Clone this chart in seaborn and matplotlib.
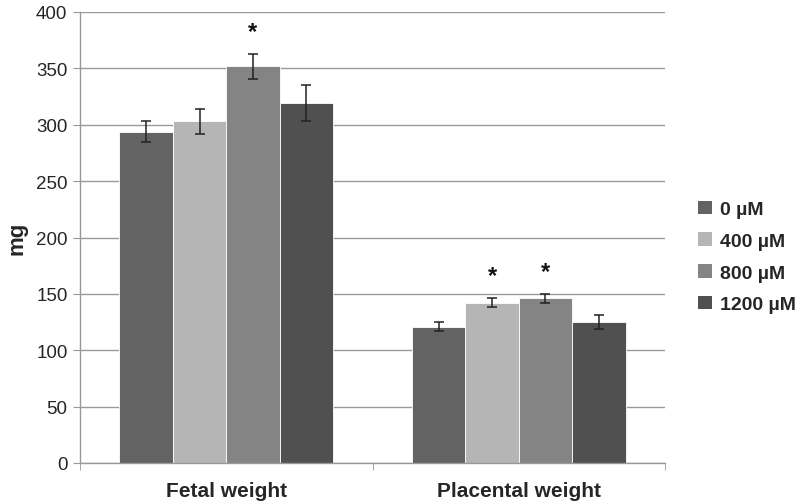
import pandas as pd
import numpy as np
import seaborn as sns
import matplotlib.pyplot as plt
from matplotlib.ticker import FixedLocator

groups = ['Fetal weight', 'Placental weight']
doses = ['0 µM', '400 µM', '800 µM', '1200 µM']
colors = ['#636363', '#b5b5b5', '#848484', '#505050']

# means per dose, [fetal, placental]
mean_0 = [294, 121]
mean_400 = [303, 142]
mean_800 = [352, 146]
mean_1200 = [319, 125]

err_0 = [9, 4]
err_400 = [11, 4]
err_800 = [11, 4]
err_1200 = [16, 6]

# significance marks: (dose, group)
stars = [('800 µM', 'Fetal weight'), ('400 µM', 'Placental weight'), ('800 µM', 'Placental weight')]

means = [mean_0, mean_400, mean_800, mean_1200]
errs = [err_0, err_400, err_800, err_1200]
rows = []
for d, m, e in zip(doses, means, errs):
    for g, v, s in zip(groups, m, e):
        rows.append({'group': g, 'dose': d, 'mg': v, 'err': s})
df = pd.DataFrame(rows)

sns.set_style('white')
plt.rcParams['font.family'] = ['Liberation Sans', 'DejaVu Sans']

fig = plt.figure(figsize=(7.99, 5.02), dpi=100)
ax = fig.add_axes([80 / 799, 1 - 464 / 502, 585 / 799, 451 / 502])

sns.barplot(data=df, x='group', y='mg', hue='dose', order=groups, hue_order=doses,
            palette=colors, width=0.73, saturation=1, edgecolor='white', linewidth=0.6,
            errorbar=None, ax=ax)

for cont, d in zip(ax.containers, doses):
    for bar, g in zip(cont, groups):
        row = df[(df['dose'] == d) & (df['group'] == g)].iloc[0]
        cx = bar.get_x() + bar.get_width() / 2
        ax.errorbar(cx, row['mg'], yerr=row['err'], fmt='none', ecolor='#222222',
                    elinewidth=1.1, capsize=3.5, capthick=1.1, zorder=5)
        if (d, g) in stars:
            ax.text(cx, row['mg'] + row['err'] + 20, '*', ha='center', va='center',
                    fontsize=17, fontweight='bold', color='#111111')

ax.set_ylim(0, 400)
ax.set_xlim(-0.5, 1.5)
ax.set_yticks(np.arange(0, 401, 50))
ax.yaxis.grid(True, color='#999999', linewidth=1)
ax.set_axisbelow(True)
ax.set_xlabel('')
ax.set_ylabel('mg', fontsize=16, fontweight='bold', labelpad=6)
ax.tick_params(axis='y', labelsize=13.5, length=5, color='#999999', direction='out', pad=4, left=True)
ax.tick_params(axis='x', length=0, pad=13)
ax.xaxis.set_minor_locator(FixedLocator([-0.5, 0.5, 1.5]))
ax.tick_params(axis='x', which='minor', length=5, color='#999999', direction='out', bottom=True)
for lab in ax.get_xticklabels():
    lab.set_fontsize(15)
    lab.set_fontweight('bold')
for side in ['top', 'right']:
    ax.spines[side].set_visible(False)
for side in ['left', 'bottom']:
    ax.spines[side].set_color('#999999')
    ax.spines[side].set_linewidth(1)

leg = ax.legend(loc='center left', bbox_to_anchor=(698 / 799, 1 - 258 / 502),
                bbox_transform=fig.transFigure, frameon=False, fontsize=14,
                borderpad=0, borderaxespad=0,
                handlelength=0.7, handleheight=0.7, handletextpad=0.45, labelspacing=0.72)
for t in leg.get_texts():
    t.set_fontweight('bold')
for h in leg.legend_handles:
    h.set_edgecolor('none')

fig.savefig('out.png', dpi=100)
